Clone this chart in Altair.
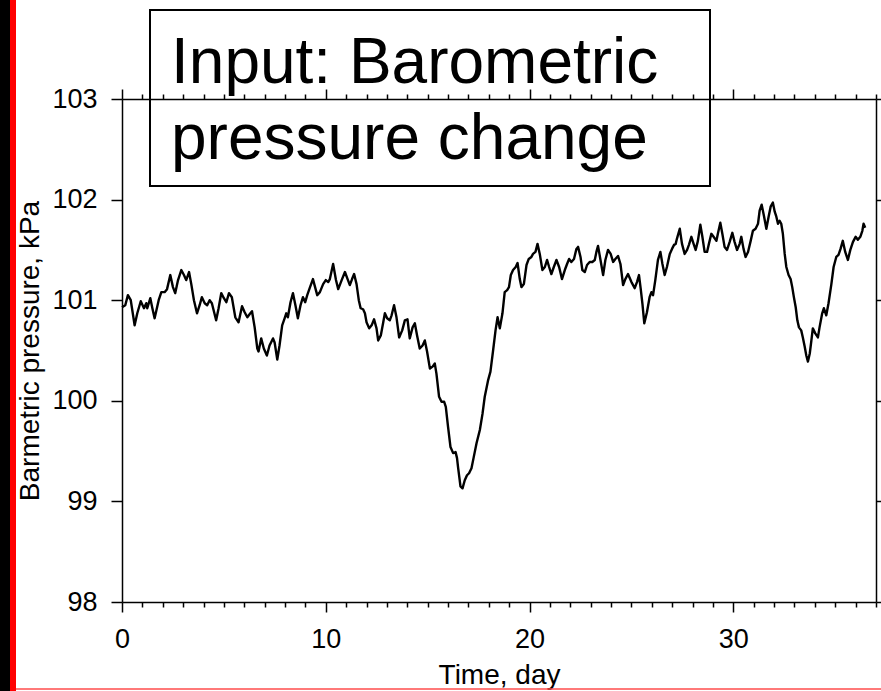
import altair as alt
import pandas as pd

# Barometric pressure record (time in days, pressure in kPa)
day = [
    0.00, 0.16, 0.29, 0.43, 0.62, 0.75, 0.92, 1.08, 1.19, 1.24,
    1.39, 1.49, 1.60, 1.80, 1.93, 2.09, 2.21, 2.37, 2.50, 2.61,
    2.75, 2.91, 3.04, 3.15, 3.29, 3.40, 3.53, 3.68, 3.81, 3.92,
    4.06, 4.18, 4.30, 4.41, 4.62, 4.74, 4.87, 5.00, 5.12, 5.25,
    5.39, 5.56, 5.72, 5.89, 6.02, 6.15, 6.26, 6.38, 6.51, 6.64,
    6.70, 6.83, 6.96, 7.11, 7.24, 7.41, 7.49, 7.62, 7.73, 7.86,
    7.98, 8.06, 8.14, 8.27, 8.39, 8.52, 8.63, 8.76, 8.88, 8.99,
    9.09, 9.21, 9.37, 9.58, 9.71, 9.87, 10.00, 10.12, 10.20, 10.36,
    10.50, 10.61, 10.78, 10.94, 11.07, 11.18, 11.29, 11.39, 11.51, 11.62,
    11.71, 11.83, 11.92, 12.00, 12.13, 12.25, 12.37, 12.49, 12.57, 12.70,
    12.82, 12.90, 13.01, 13.14, 13.23, 13.35, 13.47, 13.60, 13.75, 13.88,
    14.01, 14.12, 14.26, 14.37, 14.48, 14.61, 14.75, 14.86, 14.97, 15.11,
    15.24, 15.35, 15.43, 15.56, 15.68, 15.81, 15.89, 16.00, 16.12, 16.25,
    16.37, 16.44, 16.49, 16.61, 16.71, 16.82, 16.93, 17.03, 17.15, 17.26,
    17.40, 17.56, 17.69, 17.80, 17.96, 18.08, 18.21, 18.33, 18.43, 18.54,
    18.67, 18.78, 18.90, 18.99, 19.08, 19.19, 19.32, 19.41, 19.52, 19.60,
    19.72, 19.85, 19.96, 20.09, 20.17, 20.29, 20.39, 20.50, 20.63, 20.75,
    20.86, 20.96, 21.07, 21.19, 21.32, 21.45, 21.59, 21.73, 21.84, 21.94,
    22.05, 22.18, 22.30, 22.38, 22.50, 22.59, 22.71, 22.82, 22.95, 23.08,
    23.20, 23.28, 23.36, 23.48, 23.61, 23.72, 23.85, 23.98, 24.10, 24.21,
    24.34, 24.46, 24.59, 24.70, 24.83, 25.00, 25.16, 25.27, 25.37, 25.45,
    25.54, 25.63, 25.76, 25.89, 25.98, 26.06, 26.17, 26.30, 26.42, 26.52,
    26.63, 26.74, 26.88, 26.99, 27.09, 27.17, 27.23, 27.37, 27.48, 27.61,
    27.73, 27.82, 27.94, 28.05, 28.15, 28.26, 28.38, 28.48, 28.59, 28.71,
    28.80, 28.92, 29.03, 29.17, 29.24, 29.36, 29.46, 29.57, 29.69, 29.82,
    29.95, 30.06, 30.18, 30.31, 30.39, 30.50, 30.60, 30.72, 30.85, 30.96,
    31.09, 31.21, 31.29, 31.39, 31.50, 31.62, 31.73, 31.83, 31.94, 32.03,
    32.11, 32.19, 32.27, 32.35, 32.43, 32.52, 32.60, 32.71, 32.81, 32.89,
    32.97, 33.06, 33.14, 33.22, 33.33, 33.41, 33.50, 33.58, 33.66, 33.75,
    33.83, 33.90, 34.02, 34.15, 34.23, 34.36, 34.44, 34.56, 34.67, 34.81,
    34.92, 35.05, 35.16, 35.26, 35.37, 35.49, 35.62, 35.74, 35.87, 36.00,
    36.11, 36.23, 36.33, 36.39, 36.47,
]

pressure = [
    100.93, 100.95, 101.05, 101.00, 100.75, 100.87, 100.99, 100.92, 100.97, 100.92,
    101.02, 100.92, 100.82, 101.00, 101.08, 101.08, 101.11, 101.25, 101.13, 101.07,
    101.20, 101.30, 101.25, 101.20, 101.28, 101.16, 101.00, 100.87, 100.95, 101.03,
    100.97, 100.95, 101.00, 100.97, 100.80, 100.92, 101.07, 101.02, 100.98, 101.07,
    101.03, 100.83, 100.78, 100.94, 100.88, 100.83, 100.86, 100.89, 100.73, 100.52,
    100.49, 100.62, 100.52, 100.45, 100.55, 100.62, 100.58, 100.41, 100.55, 100.75,
    100.82, 100.87, 100.83, 100.98, 101.07, 100.94, 100.82, 100.95, 101.03, 100.98,
    101.05, 101.12, 101.21, 101.05, 101.08, 101.16, 101.20, 101.18, 101.21, 101.36,
    101.20, 101.11, 101.20, 101.28, 101.21, 101.15, 101.21, 101.26, 101.16, 101.00,
    100.92, 100.91, 100.87, 100.78, 100.72, 100.75, 100.81, 100.72, 100.60, 100.65,
    100.78, 100.87, 100.82, 100.80, 100.85, 100.95, 100.83, 100.63, 100.70, 100.80,
    100.81, 100.62, 100.73, 100.77, 100.65, 100.52, 100.55, 100.60, 100.49, 100.32,
    100.34, 100.37, 100.27, 100.04, 99.99, 99.99, 99.94, 99.74, 99.54, 99.48,
    99.49, 99.43, 99.34, 99.15, 99.13, 99.21, 99.26, 99.28, 99.33, 99.44,
    99.58, 99.71, 99.87, 100.04, 100.20, 100.29, 100.50, 100.70, 100.83, 100.72,
    100.87, 101.08, 101.10, 101.13, 101.25, 101.30, 101.33, 101.37, 101.21, 101.13,
    101.16, 101.35, 101.41, 101.43, 101.46, 101.48, 101.56, 101.46, 101.30, 101.33,
    101.40, 101.33, 101.26, 101.33, 101.40, 101.33, 101.21, 101.30, 101.36, 101.41,
    101.38, 101.41, 101.51, 101.53, 101.43, 101.30, 101.28, 101.35, 101.38, 101.38,
    101.40, 101.48, 101.54, 101.40, 101.25, 101.40, 101.50, 101.46, 101.38, 101.41,
    101.44, 101.36, 101.15, 101.21, 101.26, 101.18, 101.12, 101.18, 101.25, 101.12,
    100.96, 100.77, 100.88, 101.03, 101.08, 101.05, 101.20, 101.40, 101.48, 101.36,
    101.25, 101.33, 101.46, 101.51, 101.55, 101.56, 101.61, 101.71, 101.56, 101.46,
    101.50, 101.55, 101.63, 101.56, 101.50, 101.59, 101.75, 101.63, 101.48, 101.48,
    101.56, 101.66, 101.63, 101.59, 101.66, 101.77, 101.66, 101.53, 101.50, 101.58,
    101.67, 101.58, 101.50, 101.56, 101.63, 101.51, 101.43, 101.48, 101.59, 101.69,
    101.71, 101.76, 101.89, 101.95, 101.84, 101.71, 101.83, 101.93, 101.97, 101.88,
    101.83, 101.76, 101.79, 101.76, 101.66, 101.46, 101.33, 101.25, 101.21, 101.13,
    101.03, 100.93, 100.80, 100.73, 100.70, 100.63, 100.54, 100.45, 100.39, 100.47,
    100.60, 100.72, 100.67, 100.63, 100.73, 100.87, 100.92, 100.85, 100.97, 101.16,
    101.33, 101.43, 101.45, 101.51, 101.59, 101.48, 101.40, 101.50, 101.58, 101.63,
    101.60, 101.63, 101.69, 101.76, 101.72,
]

x_ticks = list(range(0, 38))          # a tick every day, labelled every 10
y_ticks = [98, 99, 100, 101, 102, 103]
title_lines = ["Input: Barometric", "pressure change"]

FONT = "Liberation Sans"
W, H = 754, 503

df = pd.DataFrame({"day": day, "kpa": pressure})
one = pd.DataFrame({"k": [0]})

x_scale = alt.Scale(domain=[0, 37], nice=False, zero=False)
y_scale = alt.Scale(domain=[98, 103], nice=False, zero=False)

major_minor = {"condition": {"test": "datum.value % 10 === 0", "value": 10}, "value": 5}

bottom_axis = alt.Axis(
    orient="bottom", values=x_ticks, tickSize=major_minor, tickColor="black", tickWidth=1.5,
    domainColor="black", domainWidth=1.5, grid=False,
    labelExpr="datum.value % 10 === 0 ? datum.label : ''", labelOverlap=False, labelFlush=False,
    labelFont=FONT, labelFontSize=27, labelColor="black", labelPadding=14,
    titleFont=FONT, titleFontSize=28, titleFontWeight="normal", titleColor="black",
    titleX=W / 2, titleY=81, titleAlign="center", titleBaseline="alphabetic",
)
left_axis = alt.Axis(
    orient="left", values=y_ticks, tickSize=11, tickColor="black", tickWidth=1.5,
    domainColor="black", domainWidth=1.5, grid=False,
    labelFont=FONT, labelFontSize=27, labelColor="black", labelPadding=14,
    titleFont=FONT, titleFontSize=28, titleFontWeight="normal", titleColor="black",
    titleAngle=-90, titleX=-84, titleY=H / 2, titleAlign="center", titleBaseline="alphabetic",
)
top_axis = alt.Axis(
    orient="top", values=x_ticks, tickSize=major_minor, tickColor="black", tickWidth=1.5,
    domainColor="black", domainWidth=1.5, grid=False, labels=False,
)
right_axis = alt.Axis(
    orient="right", values=y_ticks, tickSize=5, tickColor="black", tickWidth=1.5,
    domainColor="black", domainWidth=1.5, grid=False, labels=False,
)

# pressure trace
trace = alt.Chart(df).mark_line(color="black", strokeWidth=2.4, strokeJoin="round").encode(
    x=alt.X("day:Q", scale=x_scale, axis=bottom_axis, title="Time, day"),
    y=alt.Y("kpa:Q", scale=y_scale, axis=left_axis, title="Barmetric pressure, kPa"),
)

# invisible copy carrying the top and right frame axes
frame = alt.Chart(df).mark_line(opacity=0).encode(
    x=alt.X("day:Q", scale=x_scale, axis=top_axis, title=None),
    y=alt.Y("kpa:Q", scale=y_scale, axis=right_axis, title=None),
)

# slide edge strips
black_strip = alt.Chart(one).mark_rect(color="black").encode(
    x=alt.value(-122), x2=alt.value(-112), y=alt.value(-99), y2=alt.value(592)
)
red_strip = alt.Chart(one).mark_rect(color="#ff0000").encode(
    x=alt.value(-112), x2=alt.value(-106), y=alt.value(-99), y2=alt.value(592)
)
bottom_edge = alt.Chart(one).mark_rule(color="#ff4d4d", strokeWidth=1.5).encode(
    x=alt.value(-106), x2=alt.value(759), y=alt.value(590)
)

# boxed heading
box = alt.Chart(one).mark_rect(filled=False, stroke="black", strokeWidth=2).encode(
    x=alt.value(28), x2=alt.value(588), y=alt.value(-89), y2=alt.value(87)
)
line1 = alt.Chart(one).mark_text(
    text=title_lines[0], align="left", baseline="alphabetic", font=FONT, fontSize=64, color="black"
).encode(x=alt.value(49), y=alt.value(-16))
line2 = alt.Chart(one).mark_text(
    text=title_lines[1], align="left", baseline="alphabetic", font=FONT, fontSize=64, color="black"
).encode(x=alt.value(49), y=alt.value(60))

chart = (
    alt.layer(frame, trace, black_strip, red_strip, bottom_edge, box, line1, line2)
    .resolve_axis(x="independent", y="independent")
    .properties(
        width=W,
        height=H,
        autosize=alt.AutoSizeParams(type="none"),
        padding={"left": 122, "top": 99, "right": 5, "bottom": 89},
        background="white",
    )
    .configure_view(strokeWidth=0)
)

chart.save("out.html", embed_options={"renderer": "svg", "actions": False})
